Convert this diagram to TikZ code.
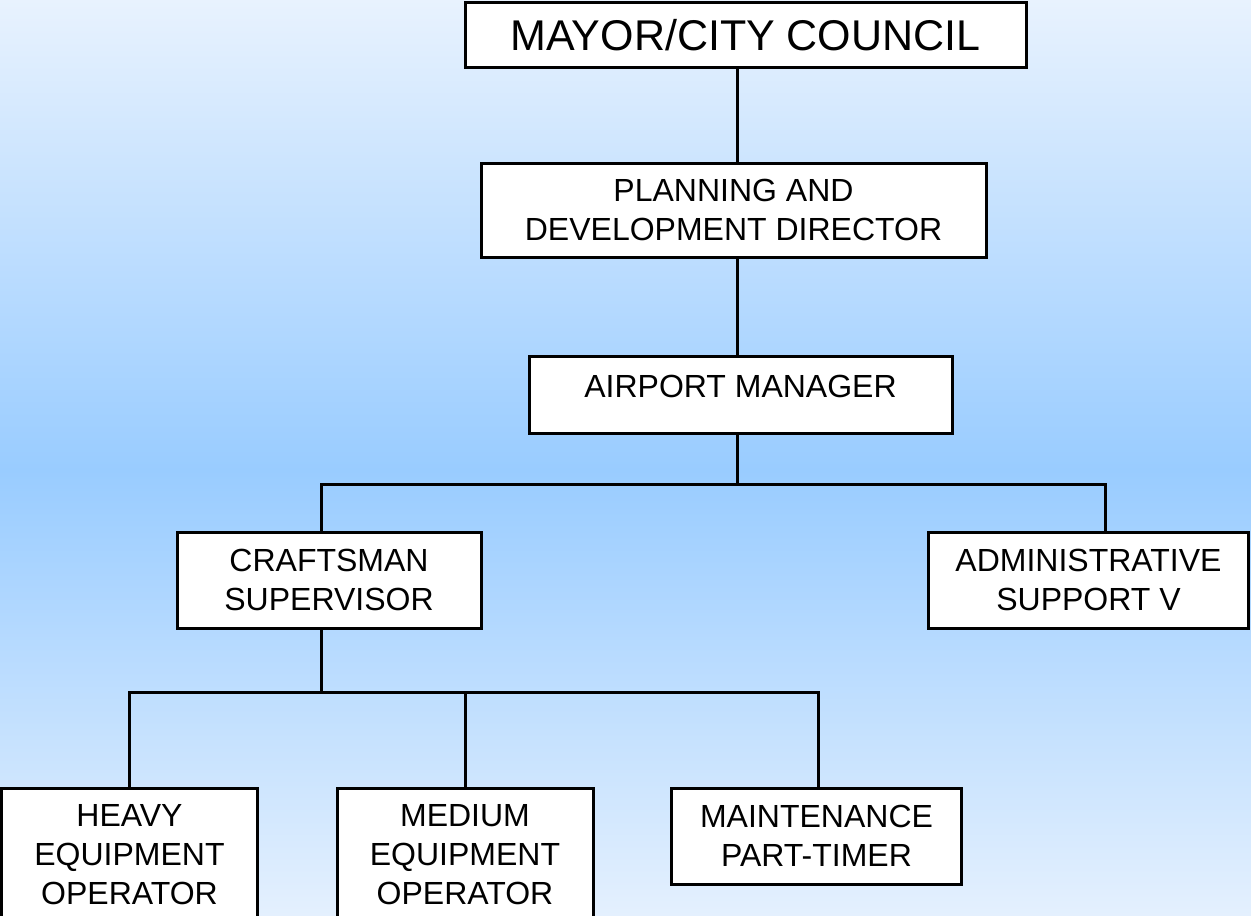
\documentclass[tikz,border=0pt]{standalone}
\usepackage{fontspec}
\setmainfont{Liberation Sans}
\usepackage{tikz}

\definecolor{skytop}{HTML}{E8F2FE}
\definecolor{skymid}{HTML}{99CCFF}
\definecolor{skybot}{HTML}{E4F0FE}

\begin{document}
\begin{tikzpicture}[x = 0.5pt, y = -0.5pt, line width = 1.5pt,
		post/.style = {draw, fill = white, align = center, inner sep = 0pt,
			font = \fontsize{16}{19.5}\selectfont},
		toppost/.style = {post, font = \fontsize{21.5}{26}\selectfont}]
		\clip (0,0) rectangle (1251,915);
		\shade[top color = skytop, bottom color = skymid] (0,0) rectangle (1251,470);
		\shade[top color = skymid, bottom color = skybot] (0,470) rectangle (1251,915);
		
		\node[toppost, minimum width = 280.5pt, minimum height = 32.5pt] (mayor) at (745.5,35.5) {MAYOR/CITY COUNCIL};
		\node[post, minimum width = 252.5pt, minimum height = 47pt] (plan) at (733.5,210) {PLANNING AND\\DEVELOPMENT DIRECTOR};
		\node[post, minimum width = 211.5pt, minimum height = 38.5pt, text height = 11.5pt, text depth = 9pt] (airport) at (740.5,394.5) {AIRPORT MANAGER};
		\node[post, minimum width = 152pt, minimum height = 48pt] (craft) at (329,580) {CRAFTSMAN\\SUPERVISOR};
		\node[post, minimum width = 160pt, minimum height = 48pt] (admin) at (1088.5,580) {ADMINISTRATIVE\\SUPPORT V};
		\node[post, minimum width = 128pt, minimum height = 67pt] (heavy) at (129.5,855) {HEAVY\\EQUIPMENT\\OPERATOR};
		\node[post, minimum width = 128pt, minimum height = 67pt] (medium) at (465,855) {MEDIUM\\EQUIPMENT\\OPERATOR};
		\node[post, minimum width = 145pt, minimum height = 48pt] (maint) at (816.5,836) {MAINTENANCE\\PART-TIMER};
		
		\coordinate (trunk) at (737,484);
		\coordinate (craftdrop) at (321,484);
		\coordinate (admindrop) at (1105,484);
		\coordinate (crewbus) at (321,692);
		\coordinate (heavydrop) at (129,692);
		\coordinate (mediumdrop) at (465,692);
		\coordinate (maintdrop) at (818,692);
		
		\draw (mayor.south -| trunk) -- (plan.north -| trunk) (plan.south -| trunk) -- (airport.north -| trunk) (airport.south -| trunk) -- (trunk);
		\draw (craftdrop |- craft.north) -- (craftdrop) -- (admindrop) -- (admindrop |- admin.north);
		\draw (craft.south -| crewbus) -- (crewbus);
		\draw (heavydrop |- heavy.north) -- (heavydrop) -- (maintdrop) -- (maintdrop |- maint.north) (mediumdrop) -- (mediumdrop |- medium.north);
	\end{tikzpicture}
\end{document}
